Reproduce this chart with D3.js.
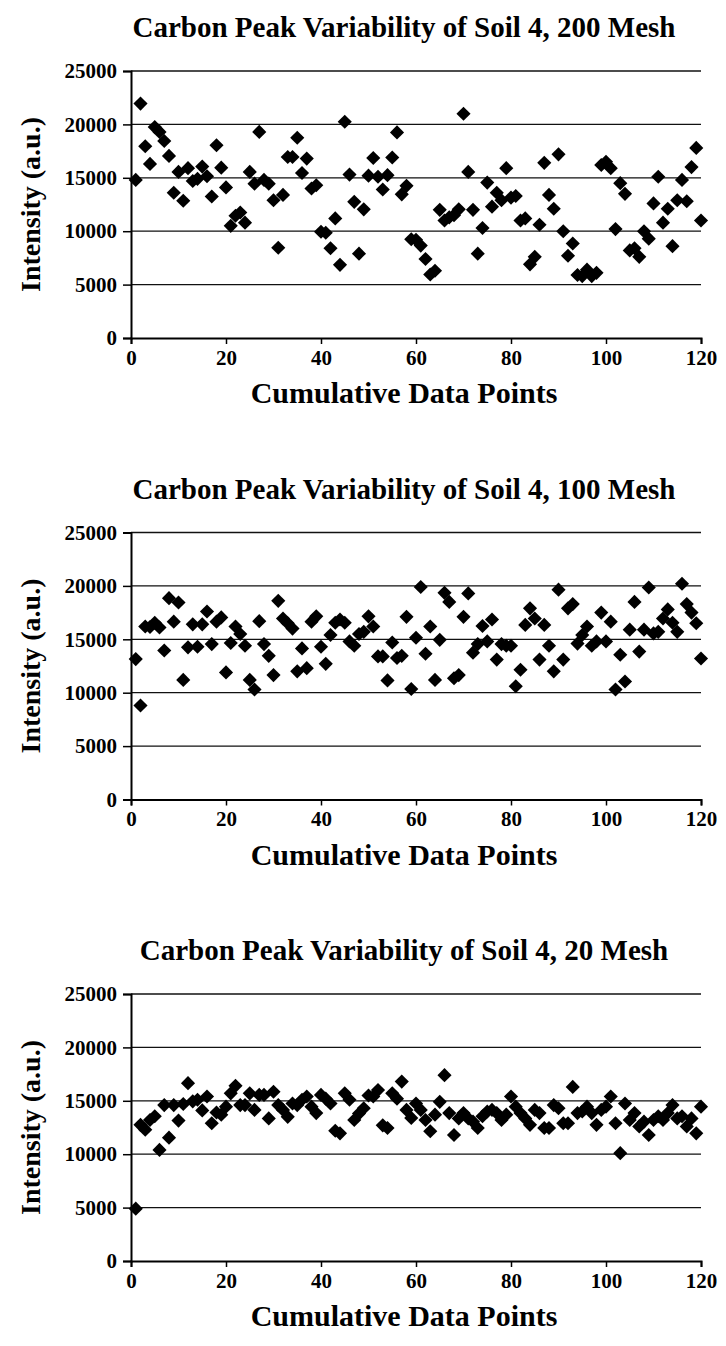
<!DOCTYPE html>
<html>
<head>
<meta charset="utf-8">
<script src="https://cdn.jsdelivr.net/npm/d3@7"></script>
<style>
  html, body { margin: 0; padding: 0; background: #fff; }
  svg { display: block; }
  text { font-family: "Liberation Serif", "Times New Roman", serif; font-weight: bold; fill: #000; }
</style>
</head>
<body>
<div id="chart"></div>
<script>
// Carbon peak variability, Soil 4 — three stacked scatter panels
const titles = [
  'Carbon Peak Variability of Soil 4, 200 Mesh',
  'Carbon Peak Variability of Soil 4, 100 Mesh',
  'Carbon Peak Variability of Soil 4, 20 Mesh'
];
const xTicks = [0, 20, 40, 60, 80, 100, 120];
const yTicks = [0, 5000, 10000, 15000, 20000, 25000];

// intensity per cumulative data point (1..120)
const mesh200 = [
  14800, 21950, 17950, 16300, 19750, 19300, 18450, 17050, 13600, 15550,
  12850, 15900, 14700, 14900, 16050, 15150, 13250, 18050, 15950, 14100,
  10500, 11450, 11750, 10800, 15550, 14450, 19300, 14800, 14450, 12900,
  8450, 13400, 16950, 16950, 18750, 15450, 16800, 14000, 14300, 9950,
  9850, 8400, 11200, 6850, 20250, 15300, 12750, 7900, 12050, 15200,
  16850, 15100, 13900, 15250, 16900, 19250, 13450, 14250, 9250, 9200,
  8650, 7400, 5950, 6300, 12000, 11000, 11300, 11500, 12050, 21000,
  15550, 12000, 7900, 10300, 14550, 12300, 13600, 12900, 15900, 13150,
  13300, 11000, 11200, 6900, 7600, 10600, 16400, 13400, 12100, 17200,
  10000, 7700, 8850, 5900, 5800, 6400, 5800, 6100, 16200, 16500,
  15900, 10200, 14500, 13500, 8200, 8400, 7600, 10000, 9300, 12600,
  15100, 10800, 12100, 8600, 12900, 14800, 12800, 16000, 17800, 11000
];
const mesh100 = [
  13150, 8800, 16200, 16150, 16550, 16100, 13950, 18850, 16650, 18450,
  11200, 14250, 16400, 14300, 16400, 17600, 14550, 16650, 17050, 11900,
  14650, 16200, 15500, 14400, 11200, 10300, 16700, 14550, 13450, 11650,
  18600, 16950, 16500, 16000, 12000, 14150, 12300, 16650, 17150, 14300,
  12700, 15400, 16550, 16850, 16550, 14800, 14400, 15500, 15700, 17150,
  16200, 13400, 13400, 11150, 14700, 13250, 13450, 17100, 10350, 15150,
  19900, 13650, 16200, 11200, 14950, 19350, 18500, 11350, 11650, 17100,
  19300, 13750, 14550, 16250, 14800, 16850, 13100, 14550, 14400, 14400,
  10600, 12150, 16350, 17900, 16950, 13100, 16350, 14400, 12000, 19650,
  13100, 17900, 18300, 14600, 15400, 16200, 14400, 14800, 17500, 14800,
  16650, 10300, 13550, 11050, 15900, 18500, 13850, 15900, 19850, 15550,
  15700, 16950, 17800, 16550, 15700, 20200, 18300, 17500, 16500, 13200
];
const mesh20 = [
  4900, 12750, 12300, 13200, 13550, 10400, 14600, 11550, 14600, 13150,
  14700, 16650, 14950, 15100, 14100, 15400, 12900, 13900, 13700, 14450,
  15700, 16400, 14600, 14600, 15700, 14150, 15550, 15550, 13350, 15850,
  14600, 14150, 13500, 14750, 14600, 15100, 15400, 14450, 13850, 15550,
  15200, 14750, 12200, 11950, 15700, 15100, 13200, 13800, 14300, 15500,
  15400, 16000, 12700, 12450, 15700, 15200, 16800, 14150, 13400, 14750,
  14150, 13200, 12150, 13700, 14900, 17400, 13850, 11800, 13350, 13850,
  13350, 13050, 12450, 13550, 14000, 14150, 13850, 13200, 13700, 15400,
  14450, 13850, 13350, 12750, 14150, 13850, 12450, 12450, 14600, 14300,
  12900, 12900, 16300, 13850, 14000, 14450, 13850, 12750, 14150, 14450,
  15400, 12900, 10100, 14750, 13200, 13850, 12600, 13050, 11800, 13200,
  13550, 13200, 13850, 14600, 13350, 13550, 12600, 13350, 11950, 14450
];
const series = [mesh200, mesh100, mesh20];

const W = 726, H = 1346;
const panelStep = 461.5;
const margin = { left: 131, right: 25, top: 71, plotH: 267 };

const svg = d3.select('#chart').append('svg')
  .attr('width', W).attr('height', H)
  .attr('viewBox', `0 0 ${W} ${H}`);

const x = d3.scaleLinear().domain([0, 120]).range([margin.left, W - margin.right]);
const y = d3.scaleLinear().domain([0, 25000]).range([margin.top + margin.plotH, margin.top]);

function drawPanel(i) {
  const g = svg.append('g').attr('transform', `translate(0,${i * panelStep})`);
  const values = series[i];

  g.append('text')
    .attr('x', 404).attr('y', 37)
    .attr('text-anchor', 'middle')
    .style('font-size', '29px')
    .text(titles[i]);

  // gridlines
  g.append('g')
    .selectAll('line')
    .data(yTicks.filter((d) => d > 0))
    .join('line')
    .attr('x1', x(0)).attr('x2', x(120))
    .attr('y1', (d) => y(d)).attr('y2', (d) => y(d))
    .attr('stroke', '#111').attr('stroke-width', 1.3);

  const yAxis = g.append('g')
    .attr('transform', `translate(${x(0)},0)`)
    .call(d3.axisLeft(y).tickValues(yTicks).tickSize(8).tickPadding(6).tickFormat((d) => d));
  yAxis.select('.domain').attr('stroke', '#000').attr('stroke-width', 2);
  yAxis.selectAll('.tick line').attr('stroke-width', 1.5);
  yAxis.selectAll('text').style('font-size', '21px').style('font-family', 'Liberation Serif').style('font-weight', 'bold');

  const xAxis = g.append('g')
    .attr('transform', `translate(0,${y(0)})`)
    .call(d3.axisBottom(x).tickValues(xTicks).tickSize(6).tickPadding(6).tickSizeOuter(6));
  xAxis.select('.domain').attr('stroke', '#000').attr('stroke-width', 2);
  xAxis.selectAll('.tick line').attr('stroke-width', 1.5);
  xAxis.selectAll('text').style('font-size', '21px').style('font-family', 'Liberation Serif').style('font-weight', 'bold');

  g.append('text')
    .attr('x', 404).attr('y', 403)
    .attr('text-anchor', 'middle')
    .style('font-size', '30px')
    .text('Cumulative Data Points');

  g.append('text')
    .attr('transform', `translate(40,${y(12500)}) rotate(-90)`)
    .attr('text-anchor', 'middle')
    .style('font-size', '28px')
    .text('Intensity (a.u.)');

  const diamond = d3.symbol().type(d3.symbolSquare).size(100);
  g.append('g')
    .selectAll('path')
    .data(values)
    .join('path')
    .attr('d', diamond)
    .attr('transform', (d, k) => `translate(${x(k + 1)},${y(d)}) rotate(45)`)
    .attr('fill', '#000');
}

series.forEach((s, i) => drawPanel(i));
</script>
</body>
</html>
